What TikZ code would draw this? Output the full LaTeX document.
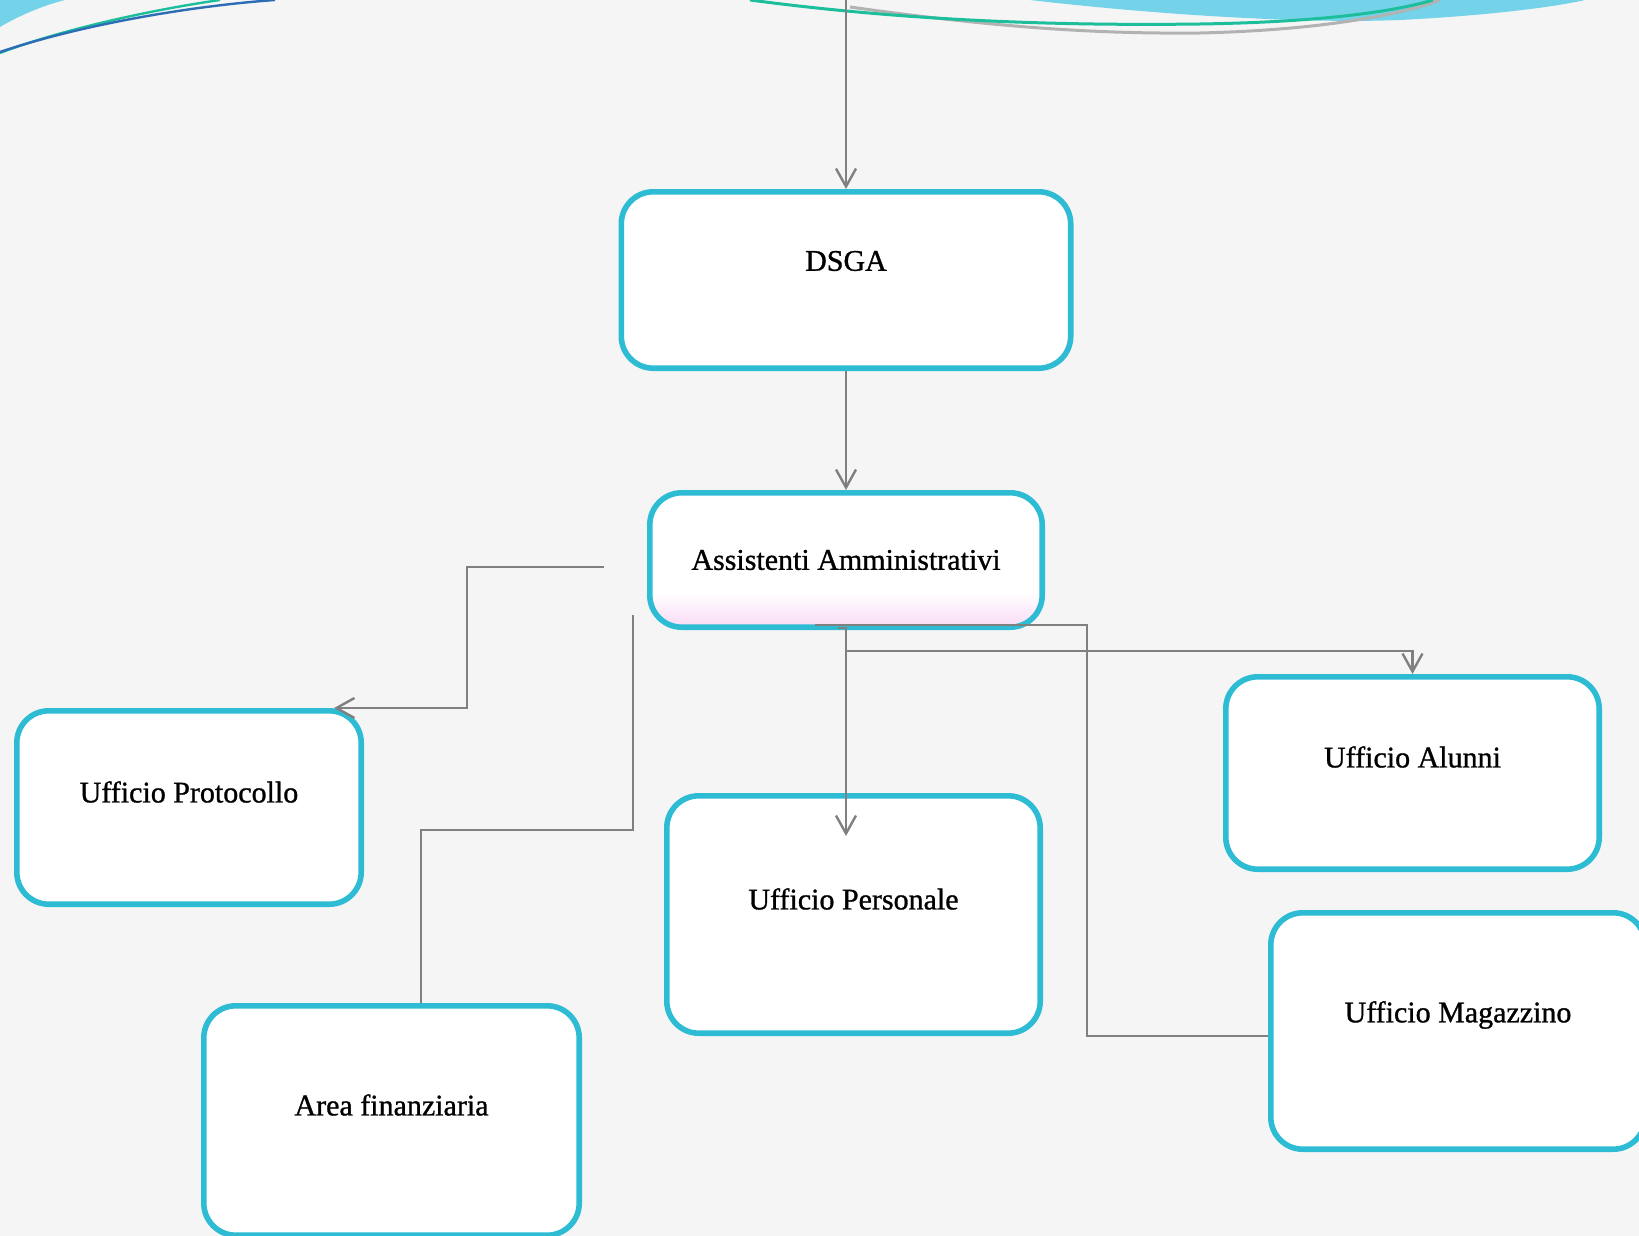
\documentclass[tikz,border=0pt]{standalone}
\usepackage{fontspec}
\setmainfont{Liberation Serif}
\newfontfamily\boxfont{Liberation Serif}[UprightFeatures={FakeBold=1}]
\usetikzlibrary{arrows.meta}
\definecolor{boxcyan}{HTML}{2DBCD4}
\definecolor{linegray}{HTML}{808080}
\definecolor{wavecyan}{HTML}{74D3E8}
\definecolor{waveteal}{HTML}{1CBE9C}
\definecolor{waveblue}{HTML}{2C6DB6}
\definecolor{bgpaper}{HTML}{F5F5F5}
\definecolor{softpink}{HTML}{F9DAF5}
\pgfdeclareverticalshading{assistfade}{100bp}{color(0bp)=(softpink); color(25bp)=(softpink); color(38bp)=(white); color(100bp)=(white)}

\begin{document}
\begin{tikzpicture}[x=0.5pt,y=-0.5pt,
  box/.style={draw=boxcyan, line width=2.8pt, rounded corners=16pt, fill=white, inner sep=0pt},
  txt/.style={font=\boxfont\fontsize{15}{18}\selectfont},
  link/.style={draw=linegray, line width=1.2pt},
  tip/.style={-{Straight Barb[length=9pt,width=10pt]}}]
\fill[bgpaper] (0,0) rectangle (1639,1236);
\useasboundingbox (0,0) rectangle (1639,1236);
% top waves
\fill[wavecyan] (1030,0) .. controls (1150,14) and (1300,24) .. (1400,20) .. controls (1480,16) and (1550,8) .. (1585,0) -- cycle;
\fill[wavecyan] (0,0) -- (0,27) .. controls (20,15) and (45,5) .. (65,0) -- cycle;
\draw[gray!60, line width=1.5pt] (850,7) .. controls (1000,28) and (1100,34) .. (1200,33) .. controls (1330,30) and (1410,12) .. (1440,0);
\draw[waveteal, line width=1.5pt] (750,0) .. controls (900,20) and (1050,26) .. (1200,24) .. controls (1330,22) and (1400,10) .. (1433,0);
\draw[waveteal, line width=1.2pt] (0,53) .. controls (60,30) and (150,10) .. (220,0);
\draw[waveblue, line width=1.2pt] (0,52) .. controls (80,25) and (190,6) .. (275,0);

\node[box, minimum width=224.7pt, minimum height=88.2pt, label={[txt,yshift=9.5pt]center:DSGA}] (dsga) at (846,280) {};
\node[box, shading=assistfade, minimum width=196.2pt, minimum height=67.2pt, label={[txt]center:Assistenti Amministrativi}] (assist) at (846,560) {};
\node[box, minimum width=172.2pt, minimum height=96.7pt, label={[txt,yshift=7.75pt]center:Ufficio Protocollo}] (proto) at (189,807.5) {};
\node[box, minimum width=186.7pt, minimum height=118.7pt, label={[txt,yshift=7.75pt]center:Ufficio Personale}] (perso) at (853.5,914.5) {};
\node[box, minimum width=186.7pt, minimum height=96.2pt, label={[txt,yshift=8pt]center:Ufficio Alunni}] (alunni) at (1412.5,773) {};
\node[box, minimum width=187.2pt, minimum height=118.2pt, label={[txt,yshift=8pt]center:Ufficio Magazzino}] (maga) at (1458,1031) {};
\node[box, minimum width=187.7pt, minimum height=114.7pt, label={[txt,yshift=7.75pt]center:Area finanziaria}] (area) at (391.5,1120.5) {};

\coordinate (topin) at (846,0);
\coordinate (pstart) at (604,567);
\coordinate (astart) at (633,615);
\coordinate (mstart) at (815,625);
\coordinate (hook) at (838,628);
\coordinate (split) at (846,628);
\coordinate (persin) at (846,836);

\draw[link,tip] (topin) -- (dsga.north);
\draw[link,tip] (dsga.south) -- (assist.north);
\draw[link,tip] (pstart) -- ++(-137,0) |- ([xshift=-15pt]proto.north east);
\draw[link] (astart) -- ++(0,215) -| ([xshift=14.75pt]area.north);
\draw[link] (mstart) -- ++(272,0) |- ([yshift=-2.5pt]maga.west);
\draw[link,tip] (hook) -- (split) -- ++(0,23) -| (alunni.north);
\draw[link,tip] (split) -- (persin);
\end{tikzpicture}
\end{document}
